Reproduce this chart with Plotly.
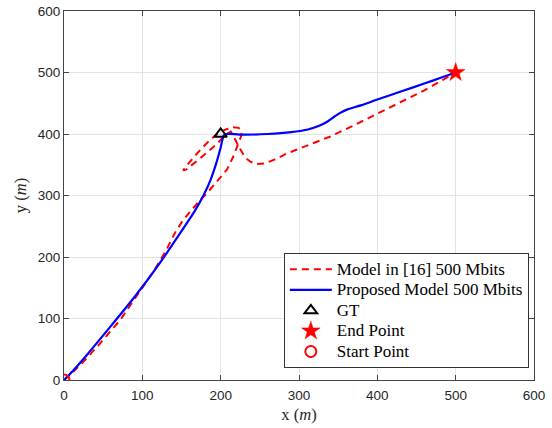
import plotly.graph_objects as go

# Trajectory estimated by the model in [16] (500 Mbits)
ref_x = [0, 10, 25, 45, 72, 95, 115, 130, 142, 152, 162, 172, 184, 197, 208,
         216, 222, 226, 227, 223, 214, 205, 200, 188, 176, 164, 155, 152,
         156, 166, 178, 190, 200, 208, 213, 216, 219, 222, 226, 231, 238,
         246, 256, 270, 284, 300, 314, 340, 370, 400, 430, 460, 485, 500]
ref_y = [0, 11, 30, 58, 98, 140, 178, 210, 240, 260, 275, 290, 306, 325, 342,
         363, 382, 396, 405, 410, 411, 407, 404, 392, 377, 360, 346, 341,
         342, 352, 365, 378, 390, 400, 404, 398, 390, 382, 372, 362, 355,
         351, 352, 359, 368, 376, 382, 396, 414, 433, 452, 471, 489, 500]

# Trajectory estimated by the proposed model (500 Mbits)
prop_x = [0, 10, 30, 60, 90, 120, 150, 167, 178, 187, 195, 200, 204, 208,
          230, 260, 290, 310, 325, 336, 345, 352, 362, 380, 400, 430, 460,
          480, 500]
prop_y = [0, 13, 42, 88, 135, 186, 242, 275, 300, 325, 355, 378, 398, 400,
          399, 400, 403, 407, 413, 420, 428, 434, 440, 447, 456, 469, 482,
          491, 500]

gt_xy = (200, 400)
end_xy = (500, 500)
start_xy = (0, 0)

axis_ticks = [0, 100, 200, 300, 400, 500, 600]

serif = "Liberation Serif, Times New Roman, serif"
sans = "Liberation Sans, Arial, Helvetica, sans-serif"


def entry(label):
    # legend rows stay compact while the label itself is set larger
    return f'<span style="font-size:17px">{label}</span>'


fig = go.Figure()

fig.add_trace(go.Scatter(
    x=ref_x, y=ref_y, mode="lines", name=entry("Model in [16] 500 Mbits"),
    line=dict(color="#ff0000", width=2, dash="7px,5px"),
))
fig.add_trace(go.Scatter(
    x=prop_x, y=prop_y, mode="lines", name=entry("Proposed Model 500 Mbits"),
    line=dict(color="#0000ff", width=2.2, shape="spline", smoothing=0.6),
))
fig.add_trace(go.Scatter(
    x=[gt_xy[0]], y=[gt_xy[1]], mode="markers", name=entry("GT"),
    marker=dict(symbol="triangle-up-open", size=11, color="black",
                line=dict(width=2, color="black")),
))
fig.add_trace(go.Scatter(
    x=[end_xy[0]], y=[end_xy[1]], mode="markers", name=entry("End Point"),
    marker=dict(symbol="star", size=14, color="#ff0000",
                line=dict(width=0.5, color="#ff0000")),
))
fig.add_trace(go.Scatter(
    x=[start_xy[0]], y=[start_xy[1]], mode="markers", name=entry("Start Point"),
    marker=dict(symbol="circle-open", size=11, color="#ff0000",
                line=dict(width=2, color="#ff0000")),
))

axis_common = dict(
    range=[0, 600], tickvals=axis_ticks, ticktext=[str(t) for t in axis_ticks],
    showgrid=True, gridcolor="#e3e3e3", gridwidth=1,
    showline=True, linecolor="#444444", linewidth=1, mirror="ticks",
    ticks="inside", ticklen=5, tickcolor="#444444", tickwidth=1,
    zeroline=False, automargin=False,
    tickfont=dict(family=sans, size=13.5, color="#262626"),
)

fig.update_layout(
    width=552, height=428,
    margin=dict(l=64, r=18, t=11, b=48),
    paper_bgcolor="white", plot_bgcolor="white",
    xaxis=dict(**axis_common, ticklabelstandoff=3,
               title=dict(text="x (<i>m</i>)", font=dict(family=serif, size=16.5, color="#262626"),
                          standoff=6)),
    yaxis=dict(**axis_common,
               title=dict(text="y (<i>m</i>)", font=dict(family=serif, size=16.5, color="#262626"),
                          standoff=6)),
    legend=dict(
        x=0.989, y=0.0325, xanchor="right", yanchor="bottom",
        bgcolor="white", bordercolor="#333333", borderwidth=1,
        font=dict(family=serif, size=13.5, color="black"),
        itemwidth=42, tracegroupgap=0,
    ),
    showlegend=True,
)

fig.write_html("out.html")
